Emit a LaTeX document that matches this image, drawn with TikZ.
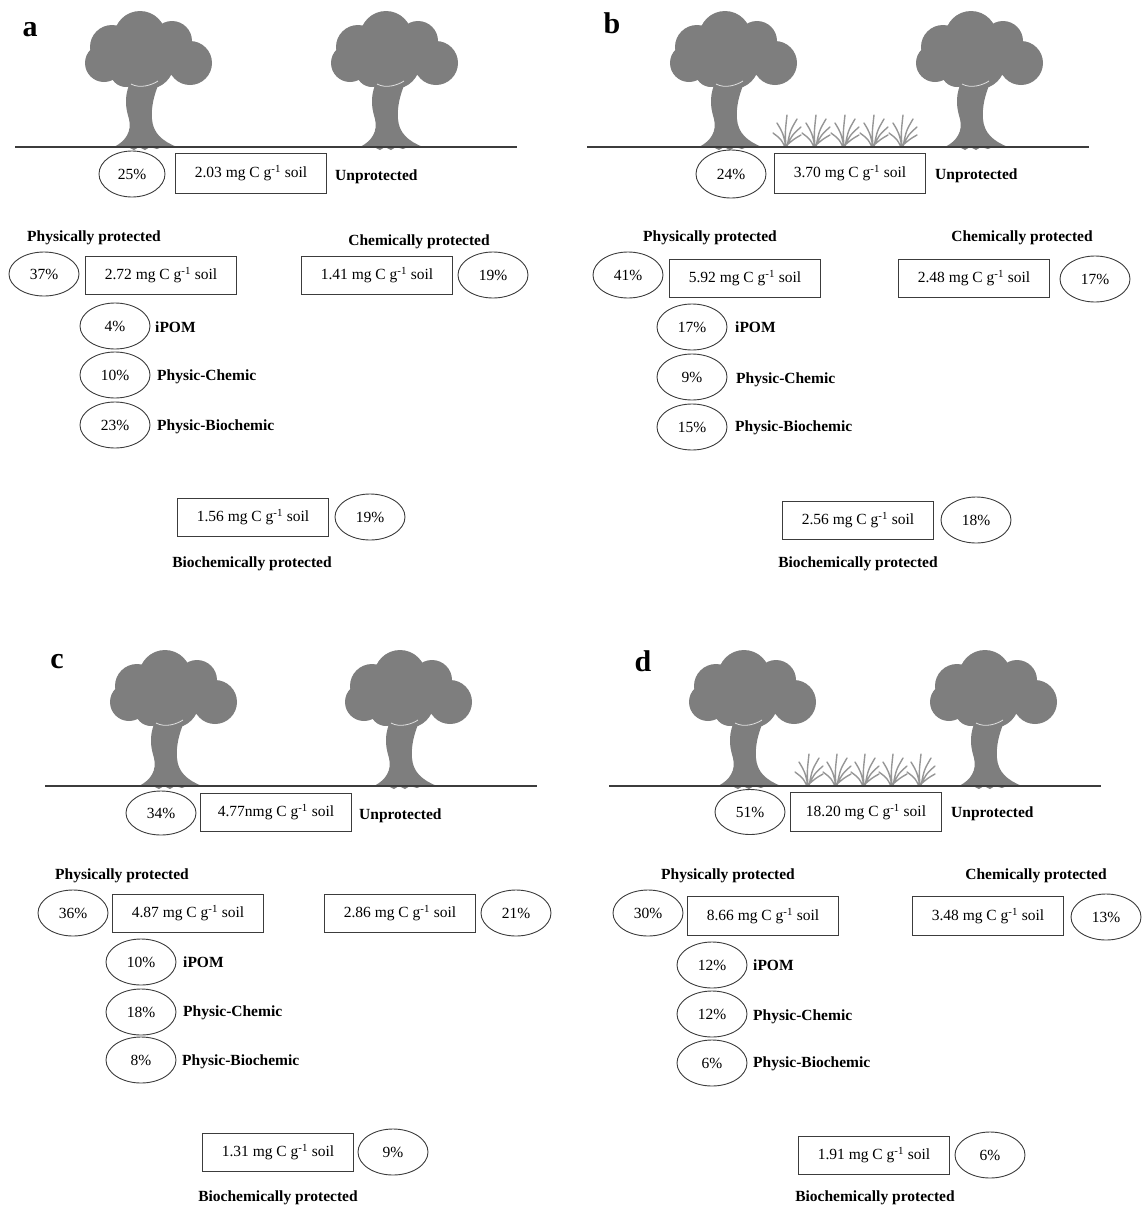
\documentclass[tikz,border=0pt]{standalone}
\usepackage{fontspec}
\setmainfont{Liberation Serif}
\usetikzlibrary{shapes.geometric}

\tikzset{
	pct/.style={draw=linegray,line width=0.9pt,ellipse,minimum width=70pt,minimum height=46pt,inner sep=0pt,font=\fontsize{15.5}{18}\selectfont},
	val/.style={draw=linegray,line width=0.9pt,rectangle,minimum width=151pt,minimum height=38pt,inner sep=0pt,font=\fontsize{15.5}{18}\selectfont},
	lbl/.style={inner sep=0pt,font=\bfseries\fontsize{15.5}{18}\selectfont},
	panel/.style={inner sep=0pt,font=\bfseries\fontsize{30}{36}\selectfont},
	tree/.pic={
		\fill[treegray] (-19,-62) .. controls (-24,-48) and (-22,-38) .. (-19,-28)
			.. controls (-16,-16) and (-22,-6) .. (-34,0)
			-- (-20,0) -- (-14,3) -- (-9,0) -- (-3,3) -- (2,0) -- (9,2) -- (14,0) -- (29,0)
			.. controls (14,-6) and (5,-14) .. (4,-28)
			.. controls (3,-40) and (6,-52) .. (11,-64) -- cycle;
		\fill[treegray] (0,-96) ellipse (45pt and 28pt)
			(-8,-110) circle (26pt) (-36,-100) circle (22pt) (-44,-84) circle (19pt)
			(24,-106) circle (20pt) (42,-84) circle (22pt) (0,-84) circle (26pt)
			(-22,-76) circle (16pt);
		\draw[white!75!treegray,line width=0.8pt] (-17,-63) .. controls (-8,-58) and (4,-62) .. (10,-66);
	},
	grass/.pic={
		\draw[grassgray,line width=1.4pt,line cap=round]
			(0,0) .. controls (-1,-14) .. (1,-32)
			(0,0) .. controls (-3,-14) .. (-9,-24)
			(-1,0) .. controls (-5,-8) .. (-13,-14)
			(1,0) .. controls (4,-16) .. (11,-28)
			(1,-1) .. controls (6,-12) .. (15,-20)
			(1,-2) .. controls (8,-8) .. (15,-12);
	}
}

\begin{document}
\begin{tikzpicture}[x=1pt,y=-1pt]
		\definecolor{treegray}{RGB}{126,126,126}
		\definecolor{grassgray}{RGB}{150,150,150}
		\definecolor{linegray}{RGB}{60,60,60}

		\useasboundingbox (0,0) rectangle (1142,1208);

		% a
		\node[panel] (a) at (30,30) {a};
		\pic at (148,147) {tree};
		\pic at (394,147) {tree};
		\draw[linegray,line width=1.1pt] (15,147) -- (517,147);

		\node[pct,minimum width=66pt] (a-upct) at (132,174) {25\%};
		\node[val,minimum height=40pt] (a-uval) at (251,173) {2.03 mg C g\textsuperscript{-1} soil};
		\node[lbl,anchor=west] (a-ulbl) at (335,177) {Unprotected};

		\node[lbl] (a-plbl) at (94,238) {Physically protected};
		\node[pct,minimum height=44pt] (a-ppct) at (44,274) {37\%};
		\node[val] (a-pval) at (161,275) {2.72 mg C g\textsuperscript{-1} soil};
		\node[lbl] (a-clbl) at (419,242) {Chemically protected};
		\node[val] (a-cval) at (377,275) {1.41 mg C g\textsuperscript{-1} soil};
		\node[pct] (a-cpct) at (493,275) {19\%};

		\node[pct] (a-ipom) at (115,326) {4\%};
		\node[lbl,anchor=west] (a-ipomlbl) at (155,327) {iPOM};
		\node[pct] (a-pc) at (115,375) {10\%};
		\node[lbl,anchor=west] (a-pclbl) at (157,377) {Physic-Chemic};
		\node[pct] (a-pb) at (115,425) {23\%};
		\node[lbl,anchor=west] (a-pblbl) at (157,427) {Physic-Biochemic};

		\node[val] (a-bval) at (253,517) {1.56 mg C g\textsuperscript{-1} soil};
		\node[pct] (a-bpct) at (370,517) {19\%};
		\node[lbl] (a-blbl) at (252,564) {Biochemically protected};

		% b
		\node[panel] (b) at (612,23) {b};
		\pic at (733,147) {tree};
		\pic at (979,147) {tree};
		\foreach \gx in {786,815,844,873,902}
			\pic at (\gx,147) {grass};
		\draw[linegray,line width=1.1pt] (587,147) -- (1089,147);

		\node[pct,minimum height=48pt] (b-upct) at (731,174) {24\%};
		\node[val,minimum height=40pt] (b-uval) at (850,173) {3.70 mg C g\textsuperscript{-1} soil};
		\node[lbl,anchor=west] (b-ulbl) at (935,176) {Unprotected};

		\node[lbl] (b-plbl) at (710,238) {Physically protected};
		\node[pct] (b-ppct) at (628,275) {41\%};
		\node[val] (b-pval) at (745,278) {5.92 mg C g\textsuperscript{-1} soil};
		\node[lbl] (b-clbl) at (1022,238) {Chemically protected};
		\node[val] (b-cval) at (974,278) {2.48 mg C g\textsuperscript{-1} soil};
		\node[pct] (b-cpct) at (1095,279) {17\%};

		\node[pct] (b-ipom) at (692,327) {17\%};
		\node[lbl,anchor=west] (b-ipomlbl) at (735,327) {iPOM};
		\node[pct] (b-pc) at (692,377) {9\%};
		\node[lbl,anchor=west] (b-pclbl) at (736,380) {Physic-Chemic};
		\node[pct] (b-pb) at (692,427) {15\%};
		\node[lbl,anchor=west] (b-pblbl) at (735,428) {Physic-Biochemic};

		\node[val] (b-bval) at (858,520) {2.56 mg C g\textsuperscript{-1} soil};
		\node[pct] (b-bpct) at (976,520) {18\%};
		\node[lbl] (b-blbl) at (858,564) {Biochemically protected};

		% c
		\node[panel] (c) at (57,662) {c};
		\pic at (173,786) {tree};
		\pic at (408,786) {tree};
		\draw[linegray,line width=1.1pt] (45,786) -- (537,786);

		\node[pct,minimum height=44pt] (c-upct) at (161,813) {34\%};
		\node[val] (c-uval) at (276,812) {4.77nmg C g\textsuperscript{-1} soil};
		\node[lbl,anchor=west] (c-ulbl) at (359,816) {Unprotected};

		\node[lbl] (c-plbl) at (122,876) {Physically protected};
		\node[pct] (c-ppct) at (73,913) {36\%};
		\node[val] (c-pval) at (188,913) {4.87 mg C g\textsuperscript{-1} soil};
		\node[val] (c-cval) at (400,913) {2.86 mg C g\textsuperscript{-1} soil};
		\node[pct] (c-cpct) at (516,913) {21\%};

		\node[pct] (c-ipom) at (141,962) {10\%};
		\node[lbl,anchor=west] (c-ipomlbl) at (183,962) {iPOM};
		\node[pct] (c-pc) at (141,1012) {18\%};
		\node[lbl,anchor=west] (c-pclbl) at (183,1013) {Physic-Chemic};
		\node[pct] (c-pb) at (141,1060) {8\%};
		\node[lbl,anchor=west] (c-pblbl) at (182,1062) {Physic-Biochemic};

		\node[val] (c-bval) at (278,1152) {1.31 mg C g\textsuperscript{-1} soil};
		\node[pct] (c-bpct) at (393,1152) {9\%};
		\node[lbl] (c-blbl) at (278,1198) {Biochemically protected};

		% d
		\node[panel] (d) at (643,661) {d};
		\pic at (752,786) {tree};
		\pic at (993,786) {tree};
		\foreach \gx in {808,836,864,892,920}
			\pic at (\gx,786) {grass};
		\draw[linegray,line width=1.1pt] (609,786) -- (1101,786);

		\node[pct,minimum height=45pt] (d-upct) at (750,812) {51\%};
		\node[val,minimum height=39pt] (d-uval) at (866,812) {18.20 mg C g\textsuperscript{-1} soil};
		\node[lbl,anchor=west] (d-ulbl) at (951,814) {Unprotected};

		\node[lbl] (d-plbl) at (728,876) {Physically protected};
		\node[pct] (d-ppct) at (648,913) {30\%};
		\node[val,minimum height=39pt] (d-pval) at (763,916) {8.66 mg C g\textsuperscript{-1} soil};
		\node[lbl] (d-clbl) at (1036,876) {Chemically protected};
		\node[val,minimum height=39pt] (d-cval) at (988,916) {3.48 mg C g\textsuperscript{-1} soil};
		\node[pct] (d-cpct) at (1106,917) {13\%};

		\node[pct] (d-ipom) at (712,965) {12\%};
		\node[lbl,anchor=west] (d-ipomlbl) at (753,965) {iPOM};
		\node[pct] (d-pc) at (712,1014) {12\%};
		\node[lbl,anchor=west] (d-pclbl) at (753,1017) {Physic-Chemic};
		\node[pct] (d-pb) at (712,1063) {6\%};
		\node[lbl,anchor=west] (d-pblbl) at (753,1064) {Physic-Biochemic};

		\node[val] (d-bval) at (874,1155) {1.91 mg C g\textsuperscript{-1} soil};
		\node[pct] (d-bpct) at (990,1155) {6\%};
		\node[lbl] (d-blbl) at (875,1198) {Biochemically protected};
\end{tikzpicture}
\end{document}
